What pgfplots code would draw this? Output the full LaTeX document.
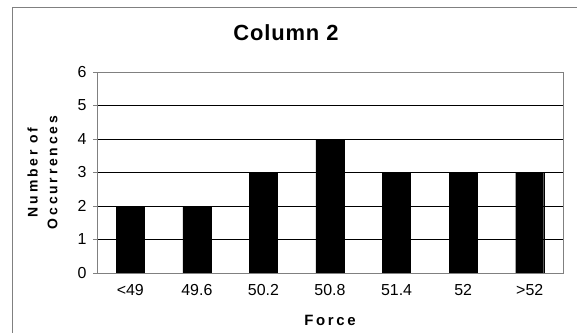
\documentclass[border=0pt]{standalone}
\usepackage{pgfplots}
\pgfplotsset{compat=1.18}
\usepackage{fontspec}
\setmainfont{Liberation Sans}

\definecolor{axisgray}{HTML}{808080}

\begin{document}
\begin{tikzpicture}
  \useasboundingbox (0,0) rectangle (577bp,333bp);
  % outer chart frame
  \draw[axisgray, line width=0.8bp] (12bp,0) -- (12bp,326bp) -- (577bp,326bp);
  \node[font=\fontsize{22}{26}\selectfont\bfseries\addfontfeatures{LetterSpace=4}] at (286bp,300bp) {Column 2};

  \begin{axis}[
    at={(97bp,60bp)}, anchor=south west,
    scale only axis,
    width=466bp, height=201bp,
    ybar, bar width=28bp,
    xmin=-0.5, xmax=6.5,
    ymin=0, ymax=6,
    ytick={0,...,6},
    xtick={0,...,6},
    xticklabels={<49,49.6,50.2,50.8,51.4,52,>52},
    xtick style={draw=none},
    minor xtick={-0.5,0.5,...,6.5},
    minor x tick style={axisgray, line width=0.8bp},
    ytick style={axisgray, line width=0.8bp},
    tick align=outside,
    major tick length=4bp, minor tick length=4bp,
    xtick pos=bottom, ytick pos=left,
    ymajorgrids,
    grid style={black, line width=0.6bp},
    axis line style={axisgray, line width=0.8bp},
    tick label style={font=\fontsize{16}{18}\selectfont},
    /pgf/number format/assume math mode=true,
    yticklabel style={xshift=-3bp},
    xticklabel style={yshift=-4bp},
    xlabel={\addfontfeatures{LetterSpace=18}Force},
    xlabel style={font=\fontsize{15}{17}\selectfont\bfseries, at={(axis description cs:0.5,-0.234)}, anchor=center},
    ylabel={\addfontfeatures{LetterSpace=20}Number of\\\addfontfeatures{LetterSpace=20}Occurrences},
    ylabel style={font=\fontsize{14}{20}\selectfont\bfseries, align=center, at={(axis description cs:-0.117,0.5)}, anchor=center},
  ]
    \addplot[fill=black, draw=black] coordinates {
      (0,2) (1,2) (2,3) (3,4) (4,3) (5,3) (6,3)
    };
  \end{axis}
\end{tikzpicture}
\end{document}
